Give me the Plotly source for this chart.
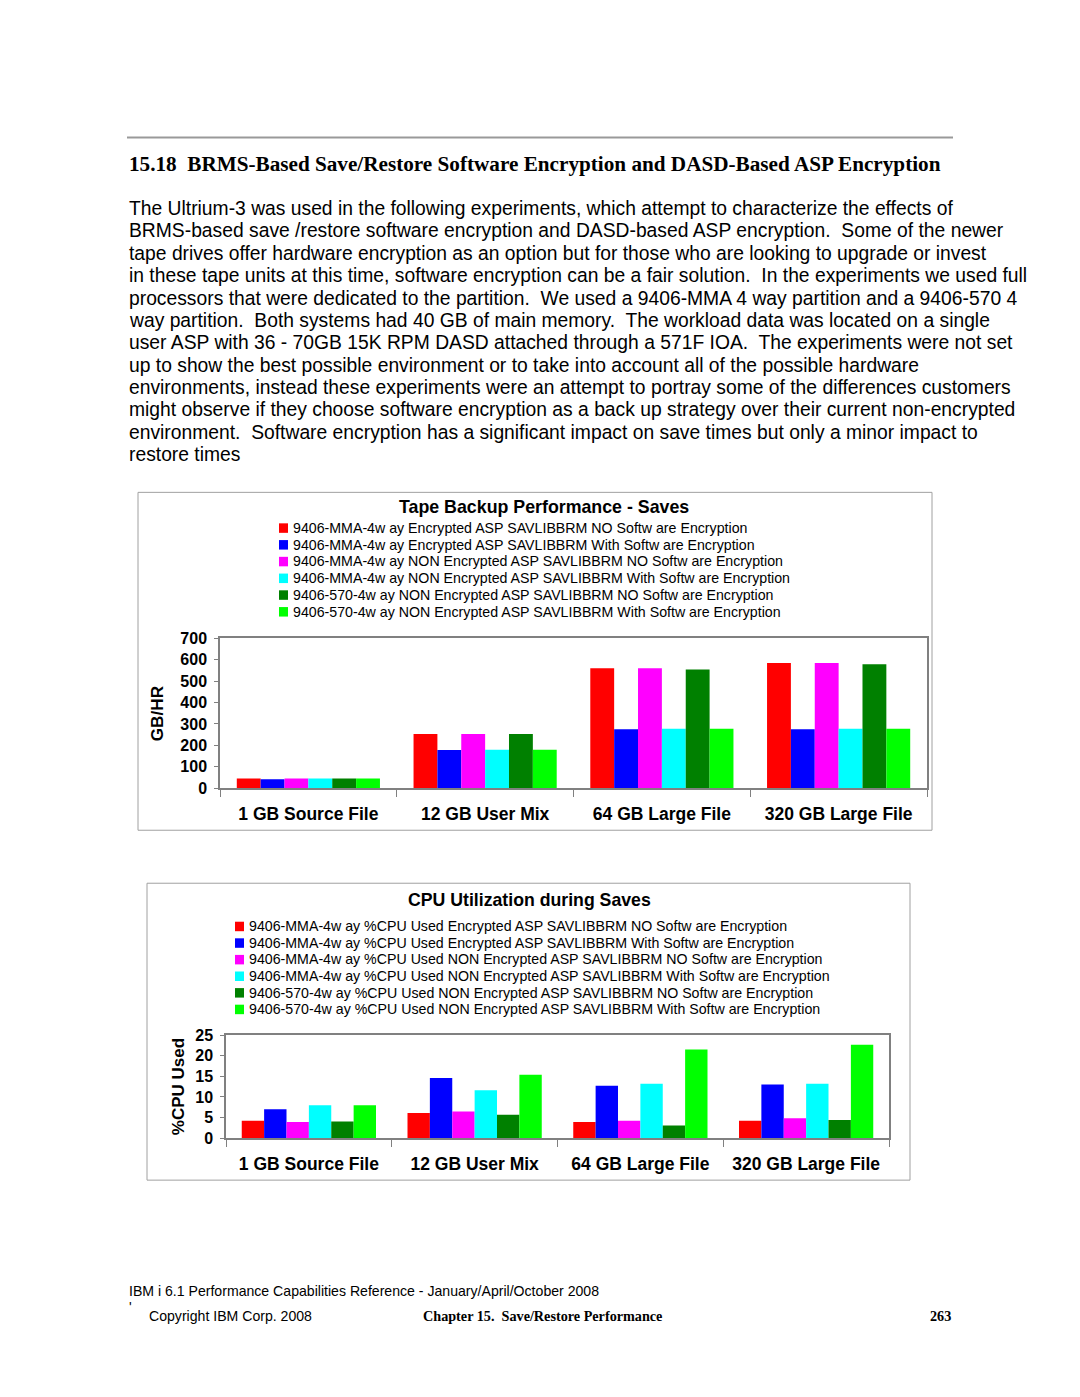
import plotly.graph_objects as go

# page is 1080x1397; the html body has an 8px margin, so the figure is sized to fit inside it
PAGE_W, PAGE_H = 1080, 1397
OFF = 8
W, H = PAGE_W - 2 * OFF, PAGE_H - 2 * OFF
# measured vertical correction of the photographed page (y_photo = A*y + B)
A, B = 0.988, 7.6

categories = ["1 GB Source File", "12 GB User Mix", "64 GB Large File", "320 GB Large File"]

save_names = [
    "9406-MMA-4w ay Encrypted ASP SAVLIBBRM NO Softw are Encryption",
    "9406-MMA-4w ay Encrypted ASP SAVLIBBRM With Softw are Encryption",
    "9406-MMA-4w ay NON Encrypted ASP SAVLIBBRM NO Softw are Encryption",
    "9406-MMA-4w ay NON Encrypted ASP SAVLIBBRM With Softw are Encryption",
    "9406-570-4w ay NON Encrypted ASP SAVLIBBRM NO Softw are Encryption",
    "9406-570-4w ay NON Encrypted ASP SAVLIBBRM With Softw are Encryption",
]
cpu_names = [
    "9406-MMA-4w ay %CPU Used Encrypted ASP SAVLIBBRM NO Softw are Encryption",
    "9406-MMA-4w ay %CPU Used Encrypted ASP SAVLIBBRM With Softw are Encryption",
    "9406-MMA-4w ay %CPU Used NON Encrypted ASP SAVLIBBRM NO Softw are Encryption",
    "9406-MMA-4w ay %CPU Used NON Encrypted ASP SAVLIBBRM With Softw are Encryption",
    "9406-570-4w ay %CPU Used NON Encrypted ASP SAVLIBBRM NO Softw are Encryption",
    "9406-570-4w ay %CPU Used NON Encrypted ASP SAVLIBBRM With Softw are Encryption",
]
colors = ["#FF0000", "#0000FF", "#FF00FF", "#00FFFF", "#008000", "#00FF00"]

# GB/HR values (one list per series, across categories)
mma_enc_nosw = [46, 253, 560, 585]
mma_enc_sw = [42, 178, 275, 275]
mma_non_nosw = [46, 253, 560, 585]
mma_non_sw = [46, 180, 278, 278]
s570_non_nosw = [46, 253, 554, 579]
s570_non_sw = [46, 180, 278, 278]
save_series = [mma_enc_nosw, mma_enc_sw, mma_non_nosw, mma_non_sw, s570_non_nosw, s570_non_sw]

# %CPU values
cpu_mma_enc_nosw = [4.2, 6.1, 3.9, 4.2]
cpu_mma_enc_sw = [7.0, 14.6, 12.7, 13.0]
cpu_mma_non_nosw = [3.9, 6.5, 4.2, 4.85]
cpu_mma_non_sw = [8.0, 11.6, 13.2, 13.2]
cpu_570_non_nosw = [4.05, 5.7, 3.1, 4.4]
cpu_570_non_sw = [8.0, 15.4, 21.5, 22.7]
cpu_series = [cpu_mma_enc_nosw, cpu_mma_enc_sw, cpu_mma_non_nosw, cpu_mma_non_sw, cpu_570_non_nosw, cpu_570_non_sw]

save_ticks = [0, 100, 200, 300, 400, 500, 600, 700]
cpu_ticks = [0, 5, 10, 15, 20, 25]

heading = "15.18  BRMS-Based Save/Restore Software Encryption and DASD-Based ASP Encryption"
body_lines = [
    "The Ultrium-3 was used in the following experiments, which attempt to characterize the effects of",
    "BRMS-based save /restore software encryption and DASD-based ASP encryption.  Some of the newer",
    "tape drives offer hardware encryption as an option but for those who are looking to upgrade or invest",
    "in these tape units at this time, software encryption can be a fair solution.  In the experiments we used full",
    "processors that were dedicated to the partition.  We used a 9406-MMA 4 way partition and a 9406-570 4",
    "way partition.  Both systems had 40 GB of main memory.  The workload data was located on a single",
    "user ASP with 36 - 70GB 15K RPM DASD attached through a 571F IOA.  The experiments were not set",
    "up to show the best possible environment or to take into account all of the possible hardware",
    "environments, instead these experiments were an attempt to portray some of the differences customers",
    "might observe if they choose software encryption as a back up strategy over their current non-encrypted",
    "environment.  Software encryption has a significant impact on save times but only a minor impact to",
    "restore times",
]


def px(x):
    return (x - OFF) / W


def py(y):
    ys = (y - B) / A
    return 1 - (ys - OFF) / H


SANS = "Liberation Sans, Arial, sans-serif"
SERIF = "Liberation Serif, Times New Roman, serif"
FRAME = "#808080"

fig = go.Figure()

for name, vals, c in zip(save_names, save_series, colors):
    fig.add_trace(go.Bar(x=categories, y=vals, name=name, marker=dict(color=c, line=dict(width=0)),
                         xaxis="x", yaxis="y", showlegend=False))
for name, vals, c in zip(cpu_names, cpu_series, colors):
    fig.add_trace(go.Bar(x=categories, y=vals, name=name, marker=dict(color=c, line=dict(width=0)),
                         xaxis="x2", yaxis="y2", showlegend=False))

axis_common = dict(showline=True, linecolor=FRAME, linewidth=1.5, mirror=True, showgrid=False,
                   zeroline=False)
ytickfont = dict(family=SANS, size=16, color="black", weight="bold")
xtickfont = dict(family=SANS, size=17.5, color="black", weight="bold")

fig.update_layout(
    width=W, height=H, autosize=False,
    margin=dict(l=0, r=0, t=0, b=0),
    paper_bgcolor="white", plot_bgcolor="white",
    barmode="group", bargap=0.19, bargroupgap=0,
    xaxis=dict(domain=[px(220), px(927)], anchor="y", tickson="boundaries", ticks="outside",
               ticklen=7, tickcolor=FRAME, tickfont=xtickfont, ticklabelstandoff=9, **axis_common),
    yaxis=dict(domain=[py(788), py(638)], anchor="x", range=[0, 700], tickvals=save_ticks,
               ticks="outside", ticklen=4, tickcolor=FRAME, tickfont=ytickfont,
               ticklabelstandoff=4, **axis_common),
    xaxis2=dict(domain=[px(226), px(889)], anchor="y2", tickson="boundaries", ticks="outside",
                ticklen=7, tickcolor=FRAME, tickfont=xtickfont, ticklabelstandoff=9, **axis_common),
    yaxis2=dict(domain=[py(1138), py(1035)], anchor="x2", range=[0, 25], tickvals=cpu_ticks,
                ticks="outside", ticklen=4, tickcolor=FRAME, tickfont=ytickfont,
                ticklabelstandoff=4, **axis_common),
)

shapes = []
annotations = []

# top rule
shapes.append(dict(type="line", xref="paper", yref="paper", x0=px(127), x1=px(953), y0=py(137), y1=py(137),
                   line=dict(color="#999999", width=2)))
# chart boxes
shapes.append(dict(type="rect", xref="paper", yref="paper", x0=px(138), x1=px(932), y0=py(830), y1=py(492),
                   line=dict(color="#A0A0A0", width=1)))
shapes.append(dict(type="rect", xref="paper", yref="paper", x0=px(147), x1=px(910), y0=py(1180), y1=py(883),
                   line=dict(color="#A0A0A0", width=1)))

annotations.append(dict(text=heading, x=px(127), y=py(164), xref="paper", yref="paper", xanchor="left",
                        yanchor="middle", showarrow=False,
                        font=dict(family=SERIF, size=21.2, color="black", weight="bold")))
for i, line in enumerate(body_lines):
    annotations.append(dict(text=line, x=px(127), y=py(208 + i * 22.4), xref="paper", yref="paper",
                            xanchor="left", yanchor="middle", showarrow=False,
                            font=dict(family=SANS, size=19.3, color="black")))

# chart titles
annotations.append(dict(text="Tape Backup Performance - Saves", x=px(544), y=py(507), xref="paper", yref="paper",
                        xanchor="center", yanchor="middle", showarrow=False,
                        font=dict(family=SANS, size=17.8, color="black", weight="bold")))
annotations.append(dict(text="CPU Utilization during Saves", x=px(529), y=py(900), xref="paper", yref="paper",
                        xanchor="center", yanchor="middle", showarrow=False,
                        font=dict(family=SANS, size=17.7, color="black", weight="bold")))

# axis titles
annotations.append(dict(text="GB/HR", x=px(157), y=py(713), xref="paper", yref="paper", textangle=-90,
                        xanchor="center", yanchor="middle", showarrow=False,
                        font=dict(family=SANS, size=17.2, color="black", weight="bold")))
annotations.append(dict(text="%CPU Used", x=px(178), y=py(1087), xref="paper", yref="paper", textangle=-90,
                        xanchor="center", yanchor="middle", showarrow=False,
                        font=dict(family=SANS, size=17, color="black", weight="bold")))


def add_legend(names, x_marker, y_start, step):
    for i, (n, c) in enumerate(zip(names, colors)):
        yc = y_start + i * step
        shapes.append(dict(type="rect", xref="paper", yref="paper", x0=px(x_marker), x1=px(x_marker + 9),
                           y0=py(yc + 5), y1=py(yc - 4.5), line=dict(width=0), fillcolor=c))
        annotations.append(dict(text=n, x=px(x_marker + 12), y=py(yc), xref="paper", yref="paper",
                                xanchor="left", yanchor="middle", showarrow=False,
                                font=dict(family=SANS, size=14.2, color="black")))


add_legend(save_names, 279, 527.5, 16.75)
add_legend(cpu_names, 235, 926, 16.6)

# footer
annotations.append(dict(text="IBM i 6.1 Performance Capabilities Reference - January/April/October 2008",
                        x=px(127), y=py(1291), xref="paper", yref="paper", xanchor="left", yanchor="middle",
                        showarrow=False, font=dict(family=SANS, size=14.1, color="black")))
annotations.append(dict(text="'", x=px(127), y=py(1307), xref="paper", yref="paper", xanchor="left",
                        yanchor="middle", showarrow=False, font=dict(family=SANS, size=14, color="black")))
annotations.append(dict(text="Copyright IBM Corp. 2008", x=px(147), y=py(1316), xref="paper", yref="paper",
                        xanchor="left", yanchor="middle", showarrow=False,
                        font=dict(family=SANS, size=14.1, color="black")))
annotations.append(dict(text="Chapter 15.  Save/Restore Performance", x=px(421), y=py(1316), xref="paper",
                        yref="paper", xanchor="left", yanchor="middle", showarrow=False,
                        font=dict(family=SERIF, size=14.2, color="black", weight="bold")))
annotations.append(dict(text="263", x=px(953), y=py(1316), xref="paper", yref="paper", xanchor="right",
                        yanchor="middle", showarrow=False,
                        font=dict(family=SERIF, size=14.2, color="black", weight="bold")))

fig.update_layout(shapes=shapes, annotations=annotations)
fig.write_html("out.html")
